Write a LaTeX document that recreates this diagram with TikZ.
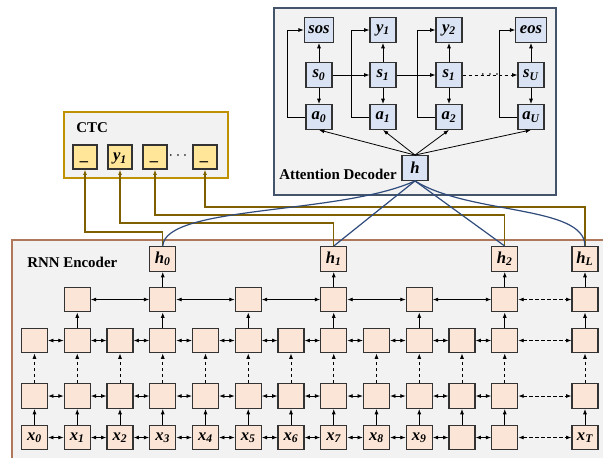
\documentclass[tikz,border=0pt]{standalone}
\usepackage{fontspec}
\setmainfont{Liberation Serif}
\usetikzlibrary{arrows.meta}

\definecolor{encfill}{HTML}{FBE5D6}
\definecolor{decfill}{HTML}{DAE3F3}
\definecolor{ctcfill}{HTML}{FFE699}
\definecolor{panel}{HTML}{F2F2F2}
\definecolor{encedge}{HTML}{B0785A}
\definecolor{decedge}{HTML}{44546A}
\definecolor{ctcedge}{HTML}{BF9000}
\definecolor{ctcline}{HTML}{7F6000}
\definecolor{attline}{HTML}{2F4B7C}

\tikzset{
  cell/.style={draw=black!80, line width=0.9pt, minimum width=19.5pt, minimum height=18.5pt,
    inner sep=3pt, font=\bfseries\itshape\fontsize{12.5}{14}\selectfont},
  enc/.style={cell, fill=encfill},
  dec/.style={cell, fill=decfill},
  ctc/.style={cell, fill=ctcfill, minimum width=18pt, minimum height=18pt,
    text height=8.5pt, text depth=3pt},
  arr/.style={-{Latex[length=4pt,width=3pt]}, line width=0.6pt},
  biarr/.style={{Latex[length=4pt,width=3pt]}-{Latex[length=4pt,width=3pt]}, line width=0.6pt},
  dsh/.style={dash pattern=on 2.5pt off 2pt},
  title/.style={font=\bfseries\fontsize{11.2}{13}\selectfont, inner sep=0pt},
}

\begin{document}
\begin{tikzpicture}[x=0.75pt, y=-0.75pt]
\useasboundingbox (0,0) rectangle (603,457);

% Panels
\draw[encedge, fill=panel, line width=0.8pt] (12,240) rectangle (620,470);
\draw[decedge, fill=panel, line width=1pt] (274,8) rectangle (556,195);
\draw[ctcedge, fill=panel, line width=0.8pt] (64,112) rectangle (228,178);

\node[title, anchor=west] (enctitle) at (27,262) {RNN Encoder};
\node[title, anchor=west] (dectitle) at (279,174) {Attention Decoder};
\node[title, anchor=west] (ctctitle) at (76,128) {CTC};

% RNN encoder: inputs
\foreach \i in {0,...,9}
  \node[enc] (x\i) at ({34.5+42.75*\i},437.5) {x\textsubscript{\i}};
\node[enc] (x10) at (462,437.5) {};
\node[enc] (x11) at (504.75,437.5) {};
\node[enc] (x12) at (585,437.5) {x\textsubscript{T}};

% RNN encoder: stacked layers
\foreach \i in {0,...,12} {
  \pgfmathsetmacro\cx{ifthenelse(\i<12,34.5+42.75*\i,585)}
  \node[enc] (p\i) at (\cx,396) {};
  \node[enc] (q\i) at (\cx,340.5) {};
}
\foreach \i in {1,3,5,7,9,11}
  \node[enc] (t\i) at ({34.5+42.75*\i},299.5) {};
\node[enc] (t12) at (585,299.5) {};

% Encoder outputs
\node[enc] (h0) at (162.75,259) {h\textsubscript{0}};
\node[enc] (h1) at (333.75,259) {h\textsubscript{1}};
\node[enc] (h2) at (504.75,259) {h\textsubscript{2}};
\node[enc] (hL) at (585,259) {h\textsubscript{L}};

% Encoder connections
\foreach \i [evaluate=\i as \j using int(\i+1)] in {0,...,10} {
  \draw[biarr] (x\i) -- (x\j);
  \draw[biarr] (p\i) -- (p\j);
  \draw[biarr] (q\i) -- (q\j);
}
\draw[biarr, dsh] (x11) -- (x12);
\draw[biarr, dsh] (p11) -- (p12);
\draw[biarr, dsh] (q11) -- (q12);
\foreach \i in {0,...,12} {
  \draw[arr] (x\i) -- (p\i);
  \draw[arr, dsh] (p\i) -- (q\i);
}
\foreach \i in {1,3,5,7,9,11,12}
  \draw[arr] (q\i) -- (t\i);
\foreach \i/\j in {1/3,3/5,5/7,7/9,9/11}
  \draw[biarr] (t\i) -- (t\j);
\draw[biarr, dsh] (t11) -- (t12);
\draw[arr] (t3) -- (h0);
\draw[arr] (t7) -- (h1);
\draw[arr] (t11) -- (h2);
\draw[arr] (t12) -- (hL);

% Attention decoder
\node[dec] (sos) at (319,30) {sos};
\node[dec] (y1) at (383,30) {y\textsubscript{1}};
\node[dec] (y2) at (449,30) {y\textsubscript{2}};
\node[dec] (eos) at (531,30) {eos};
\node[dec] (s0) at (319,75) {s\textsubscript{0}};
\node[dec] (s1) at (383,75) {s\textsubscript{1}};
\node[dec] (s2) at (449,75) {s\textsubscript{1}};
\node[dec] (sU) at (531,75) {s\textsubscript{U}};
\node[dec] (a0) at (319,117) {a\textsubscript{0}};
\node[dec] (a1) at (383,117) {a\textsubscript{1}};
\node[dec] (a2) at (449,117) {a\textsubscript{2}};
\node[dec] (aU) at (531,117) {a\textsubscript{U}};
\node[dec] (h) at (415,168) {h};

\foreach \k/\y in {0/sos,1/y1,2/y2,U/eos} {
  \draw[arr] (s\k) -- (\y);
  \draw[arr] (s\k) -- (a\k);
  \draw[arr] (h.north) -- (a\k.south);
  \draw[arr] (a\k.west) -- ++(-18,0) |- (\y.west);
}
\draw[arr] (s0) -- (s1);
\draw[arr] (s1) -- (s2);
\draw[arr, dsh] (s2) -- (sU) node[midway, font=\large] (sdots) {$\cdots$};

% CTC outputs
\node[ctc] (c1) at (85,157) {\_};
\node[ctc] (c2) at (120,157) {y\textsubscript{1}};
\node[ctc] (c3) at (155,157) {\_};
\node[font=\large] (cdots) at (178,156) {$\cdots$};
\node[ctc] (c4) at (205,157) {\_};

% Encoder to CTC
\draw[arr, ctcline, line width=1pt] (h0.north) -- ++(0,-14) -| (c1.south);
\draw[arr, ctcline, line width=1pt] (h1.north) -- ++(0,-23) -| (c2.south);
\draw[arr, ctcline, line width=1pt] (h2.north) -- ++(0,-31) -| (c3.south);
\draw[arr, ctcline, line width=1pt] (hL.north) -- ++(0,-39) -| (c4.south);

% Encoder to attention
\draw[attline, line width=0.9pt] (h.south) .. controls (340,215) and (165,205) .. (h0.north);
\draw[attline, line width=0.9pt] (h.south) -- (h1.north);
\draw[attline, line width=0.9pt] (h.south) -- (h2.north);
\draw[attline, line width=0.9pt] (h.south) .. controls (470,215) and (585,205) .. (hL.north);
\end{tikzpicture}
\end{document}
